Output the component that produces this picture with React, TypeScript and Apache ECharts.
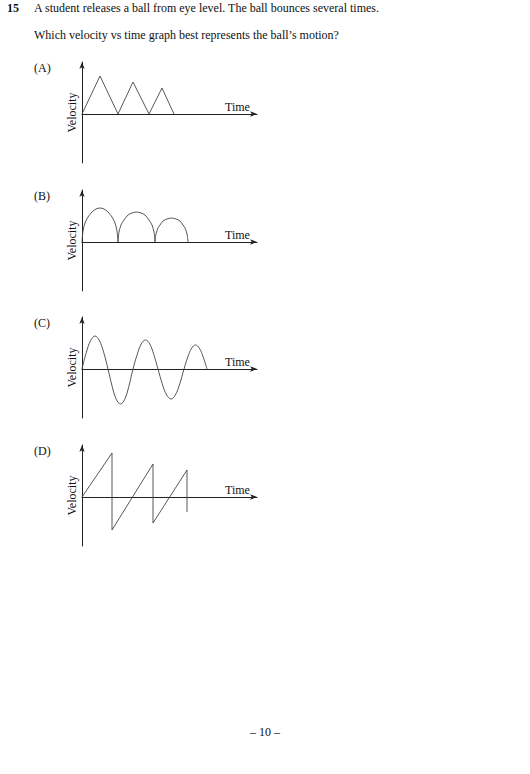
import React, { useEffect, useRef } from "react";
import * as echarts from "echarts";

// ---- Data ----
const optionLabels = ["(A)", "(B)", "(C)", "(D)"];
const xAxisName = "Time";
const yAxisName = "Velocity";
const questionNumber = "15";
const questionLine1 = "A student releases a ball from eye level. The ball bounces several times.";
const questionLine2 = "Which velocity vs time graph best represents the ball\u2019s motion?";
const pageNumber = "\u2013 10 \u2013";

// (A) triangular bounces
const seriesA: number[][] = [
  [0, 0], [18, 38], [36, 0], [51, 32], [67, 0], [80, 26], [92, 0],
];

// (B) arches
const archB1: number[][] = [
  [0, 0], [1, 11], [3, 19], [6, 25], [10, 30], [14, 33], [18, 34],
  [22, 33], [26, 30], [30, 25], [33, 19], [35, 11], [36, 0],
];
const archB2: number[][] = [
  [36, 0], [37, 10], [39, 17], [42, 22], [46, 27], [50, 29], [54.5, 30],
  [59, 29], [63, 27], [67, 22], [70, 17], [72, 10], [73, 0],
];
const archB3: number[][] = [
  [73, 0], [74, 8], [76, 14], [78, 17], [81, 21], [85, 23], [89.5, 24],
  [94, 23], [98, 21], [101, 17], [103, 14], [105, 8], [106, 0],
];

// (C) oscillation
const seriesC: number[][] = [
  [0, 0], [4.3, 16.5], [8.7, 28.6], [13, 33], [17.3, 28.6], [21.7, 16.5],
  [26, 0], [30.2, -17.5], [34.3, -30.3], [38.5, -35], [42.7, -30.3], [46.8, -17.5],
  [51, 0], [55.2, 14.5], [59.3, 25.1], [63.5, 29], [67.7, 25.1], [71.8, 14.5],
  [76, 0], [80.3, -15], [84.7, -26], [89, -30], [93.3, -26], [97.7, -15],
  [102, 0], [105.8, 12], [109.7, 20.8], [113.5, 24], [117.3, 20.8], [121.2, 12],
  [125, 0],
];

// (D) sawtooth
const seriesD: number[][] = [
  [0, 0], [30, 44], [30, -33], [71, 33], [71, -26], [105, 27], [105, -15],
];

// ---- Layout ----
const axisYs = [114, 242, 369, 497];
const Y_MAX = 52;
const Y_MIN = -49;
const X_MAX = 175;
const FONT = "'Liberation Serif', 'Times New Roman', serif";

export default function App() {
  const ref = useRef<HTMLDivElement>(null);

  useEffect(() => {
    if (!ref.current) return;
    const chart = echarts.init(ref.current, undefined, { renderer: "svg" });

    const grids = axisYs.map((ay) => ({
      left: 82,
      width: 175,
      top: ay - Y_MAX,
      height: Y_MAX - Y_MIN,
      containLabel: false,
    }));

    const axisLineStyle = { color: "#222", width: 1 };

    const xAxes = axisYs.map((_, i) => ({
      type: "value",
      gridIndex: i,
      min: 0,
      max: X_MAX,
      axisLine: {
        show: true,
        onZero: true,
        symbol: ["none", "arrow"],
        symbolSize: [4, 7],
        lineStyle: axisLineStyle,
      },
      axisTick: { show: false },
      axisLabel: { show: false },
      splitLine: { show: false },
      name: xAxisName,
      nameLocation: "end",
      nameGap: -32,
      nameTextStyle: {
        fontFamily: FONT,
        fontSize: 12,
        color: "#111",
        align: "left",
        verticalAlign: "bottom",
        padding: [0, 0, 1, 0],
      },
    }));

    const yAxes = axisYs.map((_, i) => ({
      type: "value",
      gridIndex: i,
      min: Y_MIN,
      max: Y_MAX,
      axisLine: {
        show: true,
        onZero: false,
        symbol: ["none", "arrow"],
        symbolSize: [4, 7],
        lineStyle: axisLineStyle,
      },
      axisTick: { show: false },
      axisLabel: { show: false },
      splitLine: { show: false },
      name: yAxisName,
      nameLocation: "middle",
      nameRotate: 90,
      nameGap: 4,
      nameTextStyle: {
        fontFamily: FONT,
        fontSize: 12,
        color: "#111",
      },
    }));

    const curveStyle = { color: "#444", width: 0.9 };
    const mk = (data: number[][], idx: number, smooth: number | boolean) => ({
      type: "line",
      xAxisIndex: idx,
      yAxisIndex: idx,
      data,
      smooth,
      showSymbol: false,
      symbol: "none",
      silent: true,
      lineStyle: curveStyle,
    });

    const series = [
      mk(seriesA, 0, false),
      mk(archB1, 1, 0.3),
      mk(archB2, 1, 0.3),
      mk(archB3, 1, 0.3),
      mk(seriesC, 2, 0.4),
      mk(seriesD, 3, false),
    ];

    const textStyle = (extra: any) => ({
      fontFamily: FONT,
      fontSize: 12,
      fill: "#111",
      verticalAlign: "middle",
      ...extra,
    });

    const graphic: any[] = [
      { type: "text", left: 7, top: 2, style: textStyle({ text: questionNumber, fontWeight: "bold", verticalAlign: "top" }) },
      { type: "text", left: 34, top: 2, style: textStyle({ text: questionLine1, verticalAlign: "top" }) },
      { type: "text", left: 34, top: 29, style: textStyle({ text: questionLine2, verticalAlign: "top" }) },
      ...optionLabels.map((t, i) => ({
        type: "text",
        left: 34,
        top: axisYs[i] - 52,
        style: textStyle({ text: t, verticalAlign: "top" }),
      })),
      {
        type: "text",
        left: "center",
        top: 726,
        style: textStyle({ text: pageNumber, verticalAlign: "top" }),
      },
    ];

    chart.setOption({
      animation: false,
      backgroundColor: "#ffffff",
      grid: grids,
      xAxis: xAxes,
      yAxis: yAxes,
      series,
      graphic,
    });

    return () => chart.dispose();
  }, []);

  return (
    <div
      ref={ref}
      style={{ position: "absolute", left: 0, top: 0, width: 530, height: 774, background: "#fff" }}
    />
  );
}
